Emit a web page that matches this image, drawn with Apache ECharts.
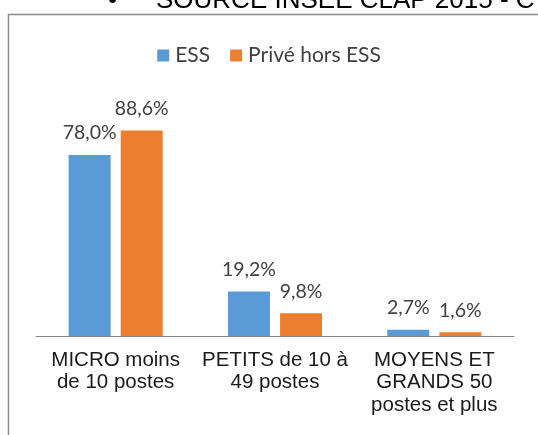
<!DOCTYPE html>
<html>
<head>
<meta charset="utf-8">
<script src="https://cdn.jsdelivr.net/npm/echarts@6/dist/echarts.min.js"></script>
<style>
  html, body { margin: 0; padding: 0; background: #fff; }
  #main { width: 538px; height: 435px; }
</style>
</head>
<body>
<div id="main"></div>
<script>
// catégories de taille d'établissement
var categories = [
  'MICRO moins\nde 10 postes',
  'PETITS de 10 à\n49 postes',
  'MOYENS ET\nGRANDS 50\npostes et plus'
]
// parts en %
var essValues = [78.0, 19.2, 2.7]
var priveValues = [88.6, 9.8, 1.6]
var seriesNames = ['ESS', 'Privé hors ESS']
var sourceText = 'SOURCE INSEE CLAP 2015 - C'

var chart = echarts.init(document.getElementById('main'))

function pct(p) {
  return p.value.toFixed(1).replace('.', ',') + '%'
}

var labelStyle = {
  show: true,
  position: 'top',
  distance: 12,
  formatter: pct,
  color: '#404040',
  fontFamily: 'Lato',
  fontSize: 19.5
}

chart.setOption({
  animation: false,
  // cadre + texte coupé en haut
  graphic: [
    {
      type: 'rect',
      shape: { x: 8.5, y: 14.5, width: 700, height: 600 },
      style: { fill: 'none', stroke: '#8c8c8c', lineWidth: 1.5 }
    },
    {
      type: 'text',
      x: 108,
      y: -12.5,
      style: {
        text: '•',
        font: '26px "Liberation Sans"',
        fill: '#000'
      }
    },
    {
      type: 'text',
      x: 156,
      y: -12.5,
      style: {
        text: sourceText,
        font: '26px "Liberation Sans"',
        fill: '#000'
      }
    }
  ],
  legend: {
    data: seriesNames,
    top: 40,
    left: 'center',
    itemWidth: 12,
    itemHeight: 12,
    itemGap: 20,
    icon: 'rect',
    textStyle: {
      color: '#404040',
      fontFamily: 'Lato',
      fontSize: 21,
      padding: [0, 0, 0, 1]
    }
  },
  grid: {
    left: 36,
    right: 24,
    top: 104,
    bottom: 99
  },
  xAxis: {
    type: 'category',
    data: categories,
    axisLine: { lineStyle: { color: '#868686', width: 1 } },
    axisTick: { show: false },
    axisLabel: {
      color: '#1a1a1a',
      fontFamily: 'Liberation Sans',
      fontSize: 20.5,
      lineHeight: 22.5,
      margin: 13,
      interval: 0
    }
  },
  yAxis: {
    type: 'value',
    min: 0,
    max: 100,
    show: false,
    splitLine: { show: false }
  },
  series: [
    {
      name: seriesNames[0],
      type: 'bar',
      data: essValues,
      barWidth: 42,
      barGap: '24%',
      itemStyle: { color: '#5B9BD5' },
      label: labelStyle
    },
    {
      name: seriesNames[1],
      type: 'bar',
      data: priveValues,
      barWidth: 42,
      itemStyle: { color: '#ED7D31' },
      label: labelStyle
    }
  ]
})
</script>
</body>
</html>
